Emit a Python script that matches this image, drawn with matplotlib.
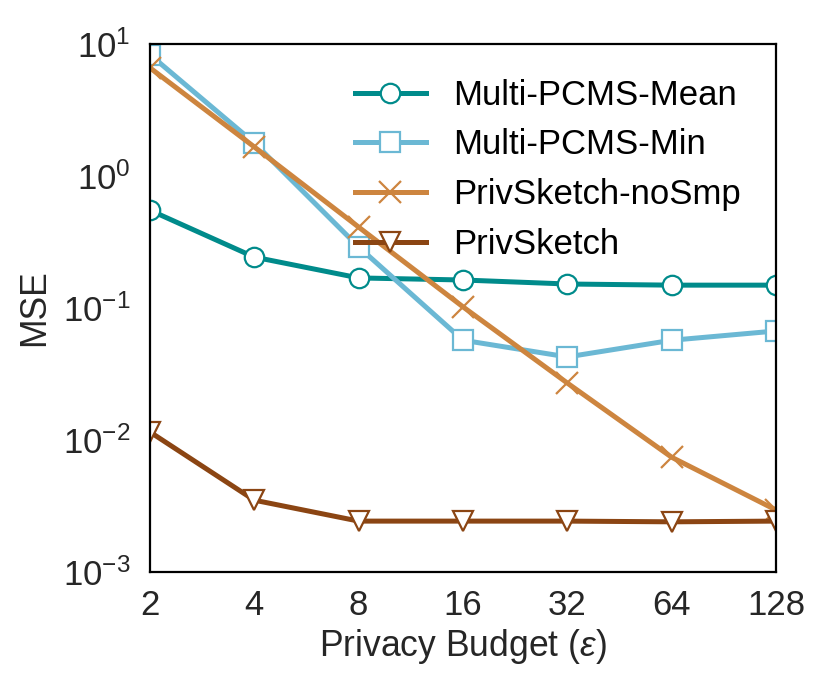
import matplotlib
matplotlib.use("Agg")
import matplotlib.pyplot as plt
from matplotlib.ticker import FixedLocator, FixedFormatter, LogLocator, NullLocator

plt.rcParams['font.family'] = ['Liberation Sans', 'DejaVu Sans']
plt.rcParams['mathtext.fontset'] = 'custom'
plt.rcParams['mathtext.rm'] = 'Liberation Sans'
plt.rcParams['mathtext.it'] = 'Liberation Sans:italic'
plt.rcParams['mathtext.bf'] = 'Liberation Sans:bold'

eps = [2, 4, 8, 16, 32, 64, 128]
eps_labels = ['2', '4', '8', '16', '32', '64', '128']
mean_vals = [0.55, 0.243, 0.169, 0.163, 0.152, 0.149, 0.149]
min_vals = [8.3, 1.78, 0.29, 0.057, 0.0426, 0.057, 0.067]
nosmp_vals = [6.6, 1.66, 0.41, 0.102, 0.027, 0.0074, 0.00295]
priv_vals = [0.0115, 0.0035, 0.00243, 0.00243, 0.00243, 0.0024, 0.00243]

fig = plt.figure(figsize=(4.15, 3.46), dpi=200)
ax = fig.add_axes([0.1807, 0.1734, 0.935 - 0.1807, 0.9364 - 0.1734])

lw = 1.8
ms = 7
mew = 0.8
ax.plot(eps, mean_vals, color='#008b8b', lw=lw, marker='o', ms=ms, mfc='white', mec='#008b8b', mew=mew, label='Multi-PCMS-Mean')
ax.plot(eps, min_vals, color='#6bb8d4', lw=lw, marker='s', ms=ms, mfc='white', mec='#6bb8d4', mew=mew, label='Multi-PCMS-Min')
ax.plot(eps, nosmp_vals, color='#cd853f', lw=lw, marker='x', ms=ms + 1, mew=mew, label='PrivSketch-noSmp')
ax.plot(eps, priv_vals, color='#8b4513', lw=lw, marker='v', ms=ms, mfc='white', mec='#8b4513', mew=mew, label='PrivSketch')

ax.set_xscale('log', base=2)
ax.set_yscale('log')
ax.set_xlim(2, 128)
ax.set_ylim(1e-3, 1e1)
ax.xaxis.set_major_locator(FixedLocator(eps))
ax.xaxis.set_major_formatter(FixedFormatter(eps_labels))
ax.xaxis.set_minor_locator(NullLocator())
ax.yaxis.set_major_locator(LogLocator(base=10, numticks=10))
ax.yaxis.set_minor_locator(NullLocator())

ax.tick_params(axis='both', which='both', length=0, labelsize=12.5, colors='#262626')
ax.tick_params(axis='x', pad=6)
ax.tick_params(axis='y', pad=7)
for s in ax.spines.values():
    s.set_color('black')
    s.set_linewidth(0.8)

ax.set_xlabel(r'Privacy Budget ($\varepsilon$)', fontsize=12.8, color='#262626', labelpad=2)
ax.set_ylabel('MSE', fontsize=12.8, color='#262626', labelpad=4)

ax.legend(loc='upper right', frameon=False, fontsize=12.5, handlelength=2.05,
          handletextpad=0.8, labelspacing=0.48, borderaxespad=0.6)

fig.savefig('out.png', dpi=200)
